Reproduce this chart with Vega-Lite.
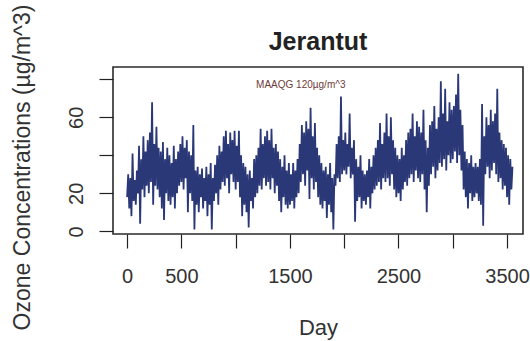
{
 "$schema": "https://vega.github.io/schema/vega-lite/v6.json",
 "width": 410,
 "height": 167,
 "autosize": "none",
 "padding": {"left": 113, "top": 67, "right": 7, "bottom": 107},
 "background": "white",
 "config": {"view": {"stroke": "#2a2a2a", "strokeWidth": 1.6}, "font": "Liberation Sans"},
 "title": {"text": "Jerantut", "fontSize": 25, "fontWeight": "bold", "font": "Liberation Sans", "color": "#222222", "offset": 18, "dy": 89, "anchor": "middle", "frame": "group", "baseline": "alphabetic"},
 "datasets": {
  "ozone": [
   {"d":0,"v":18},{"d":10,"v":30},{"d":20,"v":12},{"d":30,"v":28},{"d":40,"v":8},{"d":50,"v":41},{"d":60,"v":16},{"d":70,"v":27},{"d":80,"v":14},{"d":90,"v":32},
   {"d":100,"v":20},{"d":110,"v":45},{"d":120,"v":4},{"d":130,"v":38},{"d":140,"v":22},{"d":150,"v":50},{"d":160,"v":18},{"d":170,"v":42},{"d":180,"v":24},{"d":190,"v":48},
   {"d":200,"v":20},{"d":210,"v":52},{"d":220,"v":26},{"d":230,"v":68},{"d":240,"v":14},{"d":250,"v":46},{"d":260,"v":24},{"d":270,"v":55},{"d":280,"v":22},{"d":290,"v":44},
   {"d":300,"v":18},{"d":310,"v":42},{"d":320,"v":12},{"d":330,"v":47},{"d":340,"v":6},{"d":350,"v":38},{"d":360,"v":20},{"d":370,"v":44},{"d":380,"v":16},{"d":390,"v":40},
   {"d":400,"v":14},{"d":410,"v":36},{"d":420,"v":18},{"d":430,"v":45},{"d":440,"v":12},{"d":450,"v":38},{"d":460,"v":20},{"d":470,"v":42},{"d":480,"v":24},{"d":490,"v":46},
   {"d":500,"v":26},{"d":510,"v":50},{"d":520,"v":22},{"d":530,"v":44},{"d":540,"v":28},{"d":550,"v":48},{"d":560,"v":10},{"d":570,"v":42},{"d":580,"v":20},{"d":590,"v":40},
   {"d":600,"v":16},{"d":610,"v":56},{"d":620,"v":1},{"d":630,"v":32},{"d":640,"v":14},{"d":650,"v":34},{"d":660,"v":10},{"d":670,"v":30},{"d":680,"v":18},{"d":690,"v":33},
   {"d":700,"v":12},{"d":710,"v":28},{"d":720,"v":16},{"d":730,"v":34},{"d":740,"v":8},{"d":750,"v":30},{"d":760,"v":14},{"d":770,"v":36},{"d":780,"v":1},{"d":790,"v":28},
   {"d":800,"v":16},{"d":810,"v":35},{"d":820,"v":20},{"d":830,"v":40},{"d":840,"v":14},{"d":850,"v":45},{"d":860,"v":22},{"d":870,"v":42},{"d":880,"v":26},{"d":890,"v":50},
   {"d":900,"v":24},{"d":910,"v":53},{"d":920,"v":28},{"d":930,"v":46},{"d":940,"v":20},{"d":950,"v":52},{"d":960,"v":30},{"d":970,"v":48},{"d":980,"v":26},{"d":990,"v":53},
   {"d":1000,"v":22},{"d":1010,"v":45},{"d":1020,"v":26},{"d":1030,"v":53},{"d":1040,"v":18},{"d":1050,"v":40},{"d":1060,"v":8},{"d":1070,"v":36},{"d":1080,"v":14},{"d":1090,"v":34},
   {"d":1100,"v":10},{"d":1110,"v":30},{"d":1120,"v":2},{"d":1130,"v":32},{"d":1140,"v":16},{"d":1150,"v":28},{"d":1160,"v":12},{"d":1170,"v":38},{"d":1180,"v":18},{"d":1190,"v":40},
   {"d":1200,"v":20},{"d":1210,"v":44},{"d":1220,"v":24},{"d":1230,"v":54},{"d":1240,"v":22},{"d":1250,"v":46},{"d":1260,"v":28},{"d":1270,"v":50},{"d":1280,"v":24},{"d":1290,"v":53},
   {"d":1300,"v":26},{"d":1310,"v":48},{"d":1320,"v":22},{"d":1330,"v":54},{"d":1340,"v":28},{"d":1350,"v":44},{"d":1360,"v":20},{"d":1370,"v":46},{"d":1380,"v":24},{"d":1390,"v":42},
   {"d":1400,"v":16},{"d":1410,"v":38},{"d":1420,"v":10},{"d":1430,"v":34},{"d":1440,"v":18},{"d":1450,"v":40},{"d":1460,"v":14},{"d":1470,"v":32},{"d":1480,"v":12},{"d":1490,"v":36},
   {"d":1500,"v":14},{"d":1510,"v":30},{"d":1520,"v":16},{"d":1530,"v":36},{"d":1540,"v":12},{"d":1550,"v":32},{"d":1560,"v":18},{"d":1570,"v":38},{"d":1580,"v":20},{"d":1590,"v":46},
   {"d":1600,"v":26},{"d":1610,"v":56},{"d":1620,"v":30},{"d":1630,"v":52},{"d":1640,"v":24},{"d":1650,"v":58},{"d":1660,"v":32},{"d":1670,"v":54},{"d":1680,"v":17},{"d":1690,"v":65},
   {"d":1700,"v":28},{"d":1710,"v":50},{"d":1720,"v":22},{"d":1730,"v":57},{"d":1740,"v":26},{"d":1750,"v":44},{"d":1760,"v":18},{"d":1770,"v":40},{"d":1780,"v":14},{"d":1790,"v":36},
   {"d":1800,"v":12},{"d":1810,"v":32},{"d":1820,"v":16},{"d":1830,"v":34},{"d":1840,"v":7},{"d":1850,"v":30},{"d":1860,"v":14},{"d":1870,"v":36},{"d":1880,"v":10},{"d":1890,"v":28},
   {"d":1900,"v":1},{"d":1910,"v":30},{"d":1920,"v":24},{"d":1930,"v":46},{"d":1940,"v":28},{"d":1950,"v":50},{"d":1960,"v":26},{"d":1970,"v":71},{"d":1980,"v":30},{"d":1990,"v":48},
   {"d":2000,"v":32},{"d":2010,"v":52},{"d":2020,"v":30},{"d":2030,"v":46},{"d":2040,"v":34},{"d":2050,"v":62},{"d":2060,"v":28},{"d":2070,"v":44},{"d":2080,"v":30},{"d":2090,"v":48},
   {"d":2100,"v":5},{"d":2110,"v":38},{"d":2120,"v":16},{"d":2130,"v":34},{"d":2140,"v":18},{"d":2150,"v":40},{"d":2160,"v":12},{"d":2170,"v":32},{"d":2180,"v":16},{"d":2190,"v":30},
   {"d":2200,"v":14},{"d":2210,"v":32},{"d":2220,"v":18},{"d":2230,"v":38},{"d":2240,"v":12},{"d":2250,"v":34},{"d":2260,"v":20},{"d":2270,"v":40},{"d":2280,"v":22},{"d":2290,"v":44},
   {"d":2300,"v":24},{"d":2310,"v":48},{"d":2320,"v":26},{"d":2330,"v":57},{"d":2340,"v":22},{"d":2350,"v":46},{"d":2360,"v":28},{"d":2370,"v":52},{"d":2380,"v":26},{"d":2390,"v":62},
   {"d":2400,"v":28},{"d":2410,"v":50},{"d":2420,"v":24},{"d":2430,"v":60},{"d":2440,"v":30},{"d":2450,"v":48},{"d":2460,"v":22},{"d":2470,"v":44},{"d":2480,"v":18},{"d":2490,"v":40},
   {"d":2500,"v":20},{"d":2510,"v":38},{"d":2520,"v":16},{"d":2530,"v":44},{"d":2540,"v":22},{"d":2550,"v":40},{"d":2560,"v":26},{"d":2570,"v":48},{"d":2580,"v":24},{"d":2590,"v":52},
   {"d":2600,"v":28},{"d":2610,"v":54},{"d":2620,"v":30},{"d":2630,"v":62},{"d":2640,"v":26},{"d":2650,"v":50},{"d":2660,"v":32},{"d":2670,"v":58},{"d":2680,"v":28},{"d":2690,"v":55},
   {"d":2700,"v":26},{"d":2710,"v":52},{"d":2720,"v":30},{"d":2730,"v":64},{"d":2740,"v":22},{"d":2750,"v":48},{"d":2760,"v":10},{"d":2770,"v":44},{"d":2780,"v":24},{"d":2790,"v":56},
   {"d":2800,"v":30},{"d":2810,"v":58},{"d":2820,"v":34},{"d":2830,"v":66},{"d":2840,"v":28},{"d":2850,"v":54},{"d":2860,"v":32},{"d":2870,"v":60},{"d":2880,"v":36},{"d":2890,"v":79},
   {"d":2900,"v":34},{"d":2910,"v":62},{"d":2920,"v":38},{"d":2930,"v":75},{"d":2940,"v":32},{"d":2950,"v":58},{"d":2960,"v":40},{"d":2970,"v":68},{"d":2980,"v":36},{"d":2990,"v":64},
   {"d":3000,"v":38},{"d":3010,"v":66},{"d":3020,"v":42},{"d":3030,"v":72},{"d":3040,"v":36},{"d":3050,"v":83},{"d":3060,"v":40},{"d":3070,"v":64},{"d":3080,"v":32},{"d":3090,"v":56},
   {"d":3100,"v":22},{"d":3110,"v":42},{"d":3120,"v":18},{"d":3130,"v":38},{"d":3140,"v":12},{"d":3150,"v":36},{"d":3160,"v":20},{"d":3170,"v":40},{"d":3180,"v":16},{"d":3190,"v":34},
   {"d":3200,"v":18},{"d":3210,"v":36},{"d":3220,"v":20},{"d":3230,"v":34},{"d":3240,"v":16},{"d":3250,"v":38},{"d":3260,"v":14},{"d":3270,"v":67},{"d":3280,"v":3},{"d":3290,"v":50},
   {"d":3300,"v":30},{"d":3310,"v":60},{"d":3320,"v":34},{"d":3330,"v":56},{"d":3340,"v":28},{"d":3350,"v":64},{"d":3360,"v":32},{"d":3370,"v":58},{"d":3380,"v":36},{"d":3390,"v":62},
   {"d":3400,"v":30},{"d":3410,"v":75},{"d":3420,"v":26},{"d":3430,"v":52},{"d":3440,"v":28},{"d":3450,"v":48},{"d":3460,"v":22},{"d":3470,"v":46},{"d":3480,"v":24},{"d":3490,"v":44},
   {"d":3500,"v":18},{"d":3510,"v":40},{"d":3520,"v":14},{"d":3530,"v":38},{"d":3540,"v":22},{"d":3550,"v":34}
  ],
  "note": [{"label": "MAAQG 120µg/m^3", "d": 1600, "v": 77}]
 },
 "layer": [
  {
   "data": {"name": "ozone"},
   "mark": {"type": "line", "color": "#2b3878", "strokeWidth": 1.8},
   "encoding": {
    "x": {
     "field": "d", "type": "quantitative",
     "scale": {"domain": [-130, 3647], "nice": false, "zero": false},
     "axis": {
      "title": "Day", "values": [0, 500, 1000, 1500, 2000, 2500, 3000, 3500],
      "labelExpr": "datum.value == 1000 || datum.value == 2000 || datum.value == 3000 ? '' : datum.label",
      "format": "d", "domain": false, "grid": false,
      "tickSize": 14, "tickColor": "#222222", "tickWidth": 1.2,
      "labelFontSize": 20, "labelColor": "#333333", "labelBaseline": "alphabetic", "labelPadding": 34,
      "labelFlush": false, "labelOverlap": false,
      "titleFontSize": 22, "titleFontWeight": "normal", "titleColor": "#333333",
      "titleBaseline": "alphabetic", "titleY": 100
     }
    },
    "y": {
     "field": "v", "type": "quantitative",
     "scale": {"domain": [-1.4, 86.5], "nice": false, "zero": false},
     "axis": {
      "title": "Ozone Concentrations (µg/m^3)", "values": [0, 20, 40, 60, 80],
      "labelExpr": "datum.value == 40 || datum.value == 80 ? '' : datum.label",
      "domain": false, "grid": false,
      "tickSize": 14, "tickColor": "#222222", "tickWidth": 1.2,
      "labelFontSize": 20, "labelColor": "#333333", "labelAngle": -90, "labelAlign": "center",
      "labelBaseline": "alphabetic", "labelPadding": 17, "labelFlush": false, "labelOverlap": false,
      "titleFontSize": 23, "titleFontWeight": "normal", "titleColor": "#333333",
      "titleAngle": -90, "titleAlign": "center", "titleBaseline": "alphabetic",
      "titleX": -84, "titleY": 100
     }
    }
   }
  },
  {
   "data": {"name": "note"},
   "mark": {"type": "text", "fontSize": 10, "color": "#6e3b3b", "baseline": "middle", "align": "center"},
   "encoding": {
    "x": {"field": "d", "type": "quantitative"},
    "y": {"field": "v", "type": "quantitative"},
    "text": {"field": "label"}
   }
  }
 ]
}
